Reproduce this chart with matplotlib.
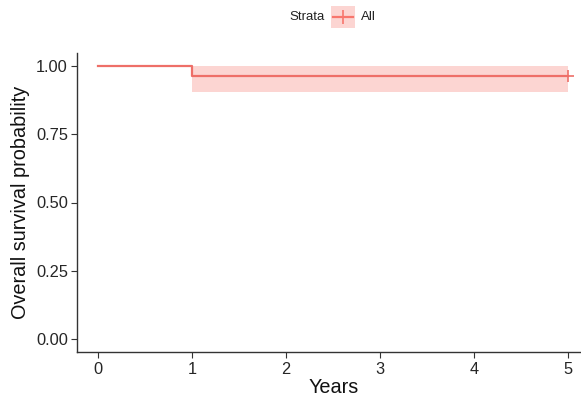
import matplotlib
matplotlib.use("Agg")
import matplotlib.pyplot as plt
from matplotlib.patches import Rectangle
from matplotlib.lines import Line2D

plt.rcParams['font.family'] = ['Liberation Sans', 'DejaVu Sans']

# Data
time = [0, 1, 5]
surv = [1.0, 0.963, 0.963]
lower = [1.0, 0.905, 0.905]
upper = [1.0, 1.0, 1.0]
censor_time = [5]
censor_surv = [0.963]
xticks = [0, 1, 2, 3, 4, 5]
yticks = [0.00, 0.25, 0.50, 0.75, 1.00]
ytick_labels = ["0.00", "0.25", "0.50", "0.75", "1.00"]
color = "#F8766D"

fig = plt.figure(figsize=(5.81, 3.97), dpi=100)
ax = fig.add_axes([77/581, 1 - 352/397, 1 - 77/581, (352 - 53)/397])

ax.fill_between(time, lower, upper, step="post", color=color, alpha=0.3, linewidth=0)
ax.step(time, surv, where="post", color="#EE6F68", linewidth=1.6)
ax.plot(censor_time, censor_surv, marker="+", color="#EE6F68", markersize=8, linestyle="none", markeredgewidth=1.2)

ax.set_xlim(-0.223, 5.14)
ax.set_ylim(-0.048, 1.048)
ax.set_xticks(xticks)
ax.set_xticklabels([str(x) for x in xticks])
ax.set_yticks(yticks)
ax.set_yticklabels(ytick_labels)
ax.tick_params(axis='both', labelsize=11.8, colors="#333333", length=4, width=0.8, labelcolor="#262626")
ax.tick_params(axis='y', pad=2.5)
ax.tick_params(axis='x', pad=3)
for s in ['top', 'right']:
    ax.spines[s].set_visible(False)
for s in ['left', 'bottom']:
    ax.spines[s].set_color("#333333")
    ax.spines[s].set_linewidth(1.0)

ax.set_xlabel("Years", fontsize=14.3, color="#111111")
ax.xaxis.set_label_coords(0.509, -0.088)
ax.set_ylabel("Overall survival probability", fontsize=14.3, color="#111111", labelpad=4)

# Legend at top
fig.text(325/581, 1 - 17/397, "Strata", fontsize=9.5, ha="right", va="center", color="#222222")
key = Rectangle((331/581, 1 - 28/397), 24/581, 22/397, transform=fig.transFigure,
                facecolor=color, alpha=0.3, edgecolor="none")
fig.patches.append(key)
fig.lines.append(Line2D([333/581, 353/581], [1 - 17/397, 1 - 17/397], transform=fig.transFigure,
                        color=color, linewidth=1.6))
fig.lines.append(Line2D([343/581], [1 - 17/397], transform=fig.transFigure, marker="+",
                        color=color, markersize=10, markeredgewidth=1.2))
fig.text(361/581, 1 - 17/397, "All", fontsize=9.5, ha="left", va="center", color="#222222")

fig.savefig("out.png", dpi=100)
